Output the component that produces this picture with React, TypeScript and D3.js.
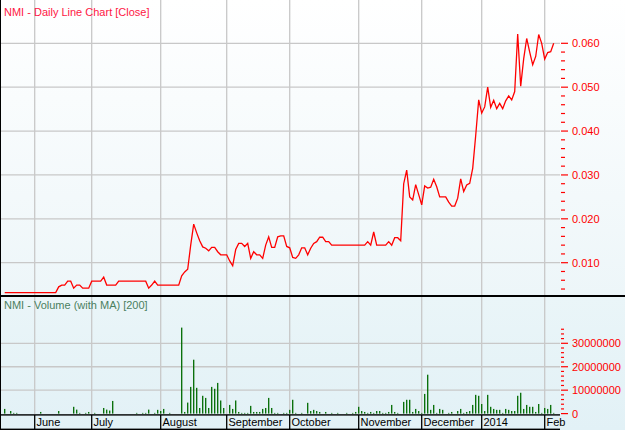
import React from "react";
import * as d3 from "d3";

// ASX trading calendar (categories)
const startDay = "2013-05-20";
const endDay = "2014-02-06";
const holidays = ["2013-06-10", "2013-12-25", "2013-12-26", "2014-01-01", "2014-01-27"];
const monthLabels = ["June", "July", "August", "September", "October", "November", "December", "2014", "Feb"];

// Daily close (AUD)
const close = [
  0.0032, 0.0032, 0.0032, 0.0032, 0.0032, 0.0032, 0.0032, 0.0032, 0.0032, 0.0032,
  0.0032, 0.0032, 0.0032, 0.0032, 0.0032, 0.0032, 0.0032, 0.0032, 0.0045, 0.0049,
  0.0049, 0.0058, 0.0058, 0.0042, 0.0049, 0.0049, 0.0042, 0.0042, 0.0042, 0.0058,
  0.0058, 0.0058, 0.0058, 0.0067, 0.0049, 0.0049, 0.0049, 0.0049, 0.0058, 0.0058,
  0.0058, 0.0058, 0.0058, 0.0058, 0.0058, 0.0058, 0.0058, 0.0058, 0.0042, 0.0049,
  0.0058, 0.0049, 0.0049, 0.0049, 0.0049, 0.0049, 0.0049, 0.0049, 0.0049, 0.007,
  0.0079, 0.0085, 0.014, 0.0188, 0.0168, 0.015, 0.0136, 0.0133, 0.0127, 0.0135,
  0.0135, 0.0125, 0.0118, 0.0118, 0.0118, 0.0104, 0.0093, 0.013, 0.0144, 0.0144,
  0.0137, 0.0144, 0.011, 0.0125, 0.0118, 0.0118, 0.011, 0.014, 0.0159, 0.0135,
  0.0135, 0.0159, 0.0161, 0.0161, 0.0137, 0.0134, 0.0112, 0.011, 0.0118, 0.0134,
  0.0134, 0.0118, 0.0133, 0.0144, 0.0148, 0.0158, 0.0158, 0.0148, 0.0148, 0.014,
  0.014, 0.014, 0.014, 0.014, 0.014, 0.014, 0.014, 0.014, 0.014, 0.014,
  0.014, 0.0148, 0.014, 0.017, 0.014, 0.014, 0.014, 0.014, 0.0148, 0.014,
  0.0157, 0.0157, 0.015, 0.028, 0.0311, 0.025, 0.0243, 0.0278, 0.0255, 0.0232,
  0.0275, 0.027, 0.0272, 0.029, 0.0273, 0.025, 0.025, 0.025, 0.0238, 0.0229,
  0.0229, 0.0247, 0.0291, 0.0262, 0.0277, 0.0281, 0.0315, 0.039, 0.0471, 0.0441,
  0.0455, 0.05, 0.0454, 0.047, 0.0451, 0.0463, 0.0451, 0.0469, 0.048, 0.0471,
  0.049, 0.0621, 0.0502, 0.0565, 0.0611, 0.058, 0.0551, 0.057, 0.062, 0.06,
  0.0564, 0.0579, 0.0581, 0.06,
];

// Daily volume (millions of shares)
const volumeMillions = [
  2.0, 0, 1.1, 0.3, 0.3, 0, 0, 0, 0, 0,
  0, 0, 0.7, 0, 0, 0, 0, 0, 1.1, 0,
  0, 0, 0, 2.9, 1.7, 0.3, 0, 0.3, 0.7, 0,
  0.3, 0, 0, 2.4, 1.7, 1.3, 5.4, 0, 0, 0,
  0, 0, 0, 0, 0.3, 0, 0.3, 0.3, 1.7, 0,
  0.3, 1.6, 1.1, 2.0, 0, 0.3, 0, 0, 0, 36.7,
  0.7, 4.7, 11.4, 23.0, 11.0, 2.4, 7.6, 6.7, 2.4, 11.4,
  10.6, 13.1, 5.6, 2.4, 0, 3.7, 2.0, 5.6, 0.7, 0.3,
  0.3, 0.3, 3.3, 0.7, 0.7, 0.7, 2.0, 2.4, 6.7, 2.4,
  0.3, 0.3, 0, 0.3, 0.3, 1.6, 5.9, 0.3, 0, 0.3,
  0, 4.6, 1.1, 1.6, 1.1, 0.7, 0, 0.7, 0, 0.3,
  0, 0.3, 0, 0, 0.3, 0, 0.3, 0.7, 2.9, 1.1,
  0.7, 0.3, 0.7, 0.3, 1.1, 1.1, 0.3, 0.3, 0.7, 3.7,
  0.7, 0.3, 0, 5.0, 5.9, 5.9, 0.7, 2.0, 1.1, 0.3,
  8.4, 16.6, 1.6, 3.7, 0.3, 2.0, 1.6, 0, 0.3, 0.7,
  0, 1.1, 2.0, 0.3, 0.7, 1.1, 3.7, 8.0, 7.6, 4.1,
  1.1, 8.0, 2.9, 2.0, 1.6, 1.6, 0.3, 2.0, 1.6, 1.1,
  1.1, 7.6, 8.9, 2.0, 3.7, 2.9, 2.9, 0.7, 4.1, 0.3,
  2.4, 2.0, 3.7, 0.3,
];

const priceTicks = [0.01, 0.02, 0.03, 0.04, 0.05, 0.06];
const volumeTicks = [0, 10000000, 20000000, 30000000];

const FONT = "'Liberation Sans', Arial, sans-serif";

export default function App() {
  const W = 625;
  const H = 430;
  const fmt = d3.timeFormat("%Y-%m-%d");
  const parse = d3.timeParse("%Y-%m-%d");
  const days = d3.timeDay
    .range(parse(startDay)!, d3.timeDay.offset(parse(endDay)!, 1))
    .filter((d) => d.getDay() !== 0 && d.getDay() !== 6 && !holidays.includes(fmt(d)))
    .map(fmt);

  const plotRight = 560;
  const x = d3.scalePoint<string>().domain(days).range([4.7, 553.7]);
  const yP = d3.scaleLinear().domain([0.01, 0.06]).range([262.7, 43.3]);
  const yV = d3.scaleLinear().domain([0, 30000000]).range([413.6, 343.3]);

  const monthStarts = days.filter((d, i) => i > 0 && d.slice(5, 7) !== days[i - 1].slice(5, 7));

  const linePath = d3
    .line<number>()
    .x((_, i) => x(days[i])!)
    .y((d) => yP(d))(close.slice(0, days.length));

  const priceMinor = d3.range(4, 61, 2).map((v) => v / 1000);
  const volMinor = d3.range(0, 37, 2).map((v) => v * 1000000);
  const pFmt = d3.format(".3f");

  const grid = "#c8c8c8";

  return (
    <svg
      width={W}
      height={H}
      viewBox={`0 0 ${W} ${H}`}
      style={{ position: "absolute", left: 0, top: 0, display: "block" }}
      fontFamily={FONT}
      fontSize={11}
    >
      <defs>
        <linearGradient id="gTop" x1="0" y1="0" x2="0" y2="1">
          <stop offset="0" stopColor="#ffffff" />
          <stop offset="1" stopColor="#edf6f9" />
        </linearGradient>
        <linearGradient id="gVol" x1="0" y1="0" x2="0" y2="1">
          <stop offset="0" stopColor="#eaf5f8" />
          <stop offset="1" stopColor="#e2f1f6" />
        </linearGradient>
      </defs>

      {/* backgrounds */}
      <rect x={0} y={0} width={W} height={295} fill="url(#gTop)" />
      <rect x={0} y={297} width={W} height={H - 297} fill="url(#gVol)" />

      {/* price panel grid */}
      {priceTicks.map((t) => (
        <line key={"pg" + t} x1={1} x2={plotRight} y1={yP(t)} y2={yP(t)} stroke={grid} strokeWidth={1.3} />
      ))}
      {monthStarts.map((d) => (
        <line key={"pv" + d} x1={x(d)} x2={x(d)} y1={0} y2={295} stroke={grid} strokeWidth={1.3} />
      ))}

      {/* volume panel grid */}
      {volumeTicks.slice(1).map((t) => (
        <line key={"vg" + t} x1={1} x2={plotRight} y1={yV(t)} y2={yV(t)} stroke={grid} strokeWidth={1.3} />
      ))}
      {monthStarts.map((d) => (
        <line key={"vv" + d} x1={x(d)} x2={x(d)} y1={297} y2={414} stroke={grid} strokeWidth={1.3} />
      ))}

      {/* price line */}
      <path d={linePath || ""} fill="none" stroke="#ff0000" strokeWidth={1.3} strokeLinejoin="miter" />

      {/* volume bars */}
      {volumeMillions.slice(0, days.length).map((v, i) =>
        v > 0 ? (
          <rect
            key={"vb" + i}
            x={x(days[i])! - 0.65}
            y={yV(v * 1000000)}
            width={1.3}
            height={yV(0) - yV(v * 1000000)}
            fill="#006a00"
          />
        ) : null
      )}

      {/* price axis */}
      {priceMinor.map((t) => {
        const major = Math.round(t * 1000) % 10 === 0;
        return (
          <line key={"pt" + t} x1={561} x2={major ? 568 : 565} y1={yP(t)} y2={yP(t)} stroke="#ff0000" strokeWidth={1.2} />
        );
      })}
      {priceTicks.map((t) => (
        <text key={"pl" + t} x={572} y={yP(t) + 4} fill="#ff0000">
          {pFmt(t)}
        </text>
      ))}

      {/* volume axis */}
      {volMinor.map((t) => {
        const major = Math.round(t / 1000000) % 10 === 0;
        return (
          <line key={"vt" + t} x1={561} x2={major ? 568 : 564} y1={yV(t)} y2={yV(t)} stroke="#ff0000" strokeWidth={1.2} />
        );
      })}
      {volumeTicks.map((t) => (
        <text key={"vl" + t} x={572} y={yV(t) + 4} fill="#ff0000">
          {String(t)}
        </text>
      ))}

      {/* titles */}
      <text x={4} y={16} fill="#ff1744">
        NMI - Daily Line Chart [Close]
      </text>
      <text x={4} y={309} fill="#4a8060">
        NMI - Volume (with MA) [200]
      </text>

      {/* frame lines */}
      <rect x={0} y={295} width={W} height={2} fill="#000" />
      <rect x={0} y={0} width={1} height={H} fill="#000" />
      <rect x={0} y={414.2} width={plotRight} height={1.4} fill="#000" />
      <rect x={0} y={428.6} width={plotRight} height={1.4} fill="#000" />

      {/* x axis month separators and labels */}
      {monthStarts.map((d, k) => (
        <g key={"ml" + d}>
          <line x1={x(d)} x2={x(d)} y1={415} y2={429} stroke="#000" strokeWidth={1.3} />
          <text x={x(d)! + 1.8} y={426} fill="#000">
            {monthLabels[k]}
          </text>
        </g>
      ))}
    </svg>
  );
}
